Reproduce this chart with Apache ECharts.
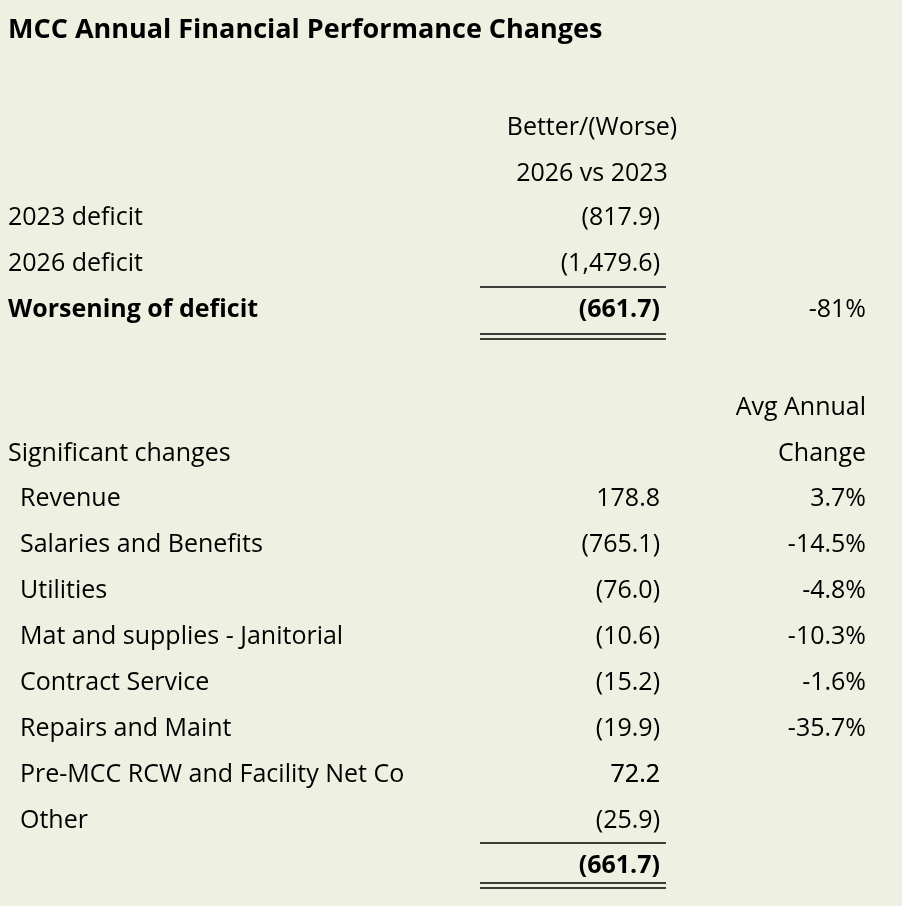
<!DOCTYPE html>
<html>
<head>
<meta charset="utf-8">
<script src="https://cdn.jsdelivr.net/npm/echarts@6/dist/echarts.min.js"></script>
<style>
html, body { margin: 0; padding: 0; background: #eef0e2; }
#main { width: 902px; height: 906px; }
</style>
</head>
<body>
<div id="main"></div>
<script>
// data
var title = 'MCC Annual Financial Performance Changes';
var headerTop = ['Better/(Worse)', '2026 vs 2023'];
var deficitLabels = ['2023 deficit', '2026 deficit', 'Worsening of deficit'];
var deficitValues = ['(817.9)', '(1,479.6)', '(661.7)'];
var deficitPct = '-81%';
var changeHeader = ['Avg Annual', 'Change'];
var changeLabels = ['Revenue', 'Salaries and Benefits', 'Utilities', 'Mat and supplies - Janitorial',
  'Contract Service', 'Repairs and Maint', 'Pre-MCC RCW and Facility Net Co', 'Other'];
var changeValues = ['178.8', '(765.1)', '(76.0)', '(10.6)', '(15.2)', '(19.9)', '72.2', '(25.9)'];
var changePct = ['3.7%', '-14.5%', '-4.8%', '-10.3%', '-1.6%', '-35.7%', '', ''];
var totalValue = '(661.7)';

var FONT = '"Open Sans", Lato, sans-serif';
var ROW = 46;
var g = [];

function txt(x, y, s, align, bold, size) {
  g.push({
    type: 'text', x: x, y: y,
    style: {
      text: s, align: align || 'left', verticalAlign: 'middle',
      font: (bold ? 'bold ' : '') + (size || 25) + 'px ' + FONT, fill: '#000'
    }
  });
}
function hline(y, x1, x2) {
  g.push({ type: 'line', shape: { x1: x1, y1: y, x2: x2, y2: y }, style: { stroke: '#000', lineWidth: 1.3 } });
}

txt(8, 30, title, 'left', true, 27);
headerTop.forEach(function (s, i) { txt(592, 128 + i * ROW, s, 'center'); });

deficitLabels.forEach(function (s, i) {
  var y = 218 + i * ROW, bold = i === deficitLabels.length - 1;
  txt(8, y, s, 'left', bold);
  txt(660, y, deficitValues[i], 'right', bold);
});
txt(866, 218 + 2 * ROW, deficitPct, 'right');
hline(287, 480, 666);
hline(334, 480, 666);
hline(339, 480, 666);

txt(866, 408, changeHeader[0], 'right');
txt(8, 454, 'Significant changes', 'left');
txt(866, 454, changeHeader[1], 'right');

changeLabels.forEach(function (s, i) {
  var y = 499 + i * ROW;
  txt(20, y, s, 'left');
  txt(660, y, changeValues[i], 'right');
  if (changePct[i]) txt(866, y, changePct[i], 'right');
});
// clip the long label as in the sheet cell
g.push({ type: 'rect', shape: { x: 481, y: 758, width: 80, height: 34 }, style: { fill: '#eef0e2' } });
txt(660, 775, changeValues[6], 'right');

hline(843, 480, 666);
txt(660, 866, totalValue, 'right', true);
hline(883, 480, 666);
hline(888, 480, 666);

var chart = echarts.init(document.getElementById('main'));
chart.setOption({ backgroundColor: '#eef0e2', graphic: g });
</script>
</body>
</html>
